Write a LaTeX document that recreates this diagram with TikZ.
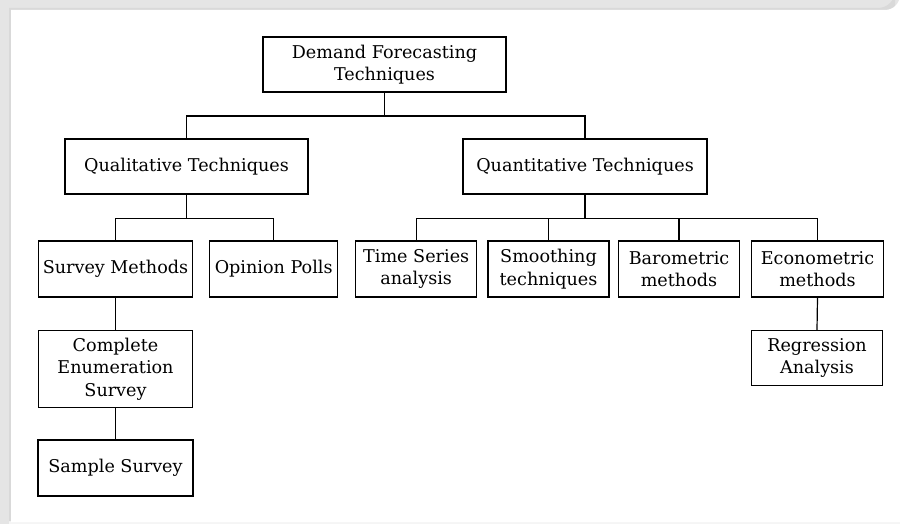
\documentclass[tikz,border=0pt]{standalone}
\usepackage{fontspec}
\setmainfont{DejaVu Serif}
\usepackage{tikz}

\tikzset{
  box/.style={draw, line width=1.2pt, fill=white, align=center, inner sep=1pt,
    font=\fontsize{17.6}{22.5}\selectfont},
  link/.style={line width=1.2pt}
}

\begin{document}
\begin{tikzpicture}[x=1pt, y=-1pt]
    % Frame
    \useasboundingbox (0,0) rectangle (900,524);
    \fill[gray!20] (0,0) rectangle (900,524);
    \fill[gray!8] (9,521) rectangle (900,524);
    \fill[gray!30] (9,8) -- (878,8) arc (90:0:17) -- (895,521) -- (9,521) -- cycle;
    \fill[white] (11,10) -- (885,10) arc (90:0:15) -- (900,522) -- (11,522) -- cycle;

    % Top
    \node[box, minimum width=243, minimum height=55] (root) at (384.5,64.5) {Demand Forecasting\\Techniques};

    % Second level
    \node[box, minimum width=243, minimum height=55] (qual) at (186.5,166.5) {Qualitative Techniques};
    \node[box, minimum width=244, minimum height=55] (quant) at (585,166.5) {Quantitative Techniques};

    % Third level
    \node[box, minimum width=154, minimum height=56] (survey) at (115.5,269) {Survey Methods};
    \node[box, minimum width=128, minimum height=56] (polls) at (273.7,269) {Opinion Polls};
    \node[box, minimum width=121, minimum height=56] (tseries) at (416.2,269) {Time Series\\analysis};
    \node[box, minimum width=121, minimum height=56] (smooth) at (548.5,269) {Smoothing\\techniques};
    \node[box, minimum width=121, minimum height=56] (baro) at (679,269) {Barometric\\methods};
    \node[box, minimum width=132, minimum height=56] (econ) at (817.5,269) {Econometric\\methods};

    % Lower levels
    \node[box, minimum width=154, minimum height=77] (census) at (115.5,369) {Complete\\Enumeration\\Survey};
    \node[box, minimum width=155, minimum height=56] (sample) at (115.5,468) {Sample Survey};
    \node[box, minimum width=131, minimum height=55] (regr) at (817,358) {Regression\\Analysis};

    % Bus levels
    \coordinate (bus1) at (0,116);
    \coordinate (bus2) at (0,218.5);

    % Connectors
    \draw[link] (root.south) -- (root.south |- bus1);
    \draw[link] (qual.north) |- (quant.north |- bus1) -- (quant.north);

    \draw[link] (qual.south) -- (qual.south |- bus2);
    \draw[link] (survey.north) |- (polls.north |- bus2) -- (polls.north);

    \draw[link] (quant.south) -- (quant.south |- bus2);
    \draw[link] (tseries.north) |- (econ.north |- bus2) -- (econ.north);
    \foreach \n in {smooth, baro}
        \draw[link] (\n.north) -- (\n.north |- bus2);

    \draw[link] (survey.south) -- (census.north);
    \draw[link] (census.south) -- (sample.north);
    \draw[link] (econ.south) -- (regr.north);
\end{tikzpicture}
\end{document}
